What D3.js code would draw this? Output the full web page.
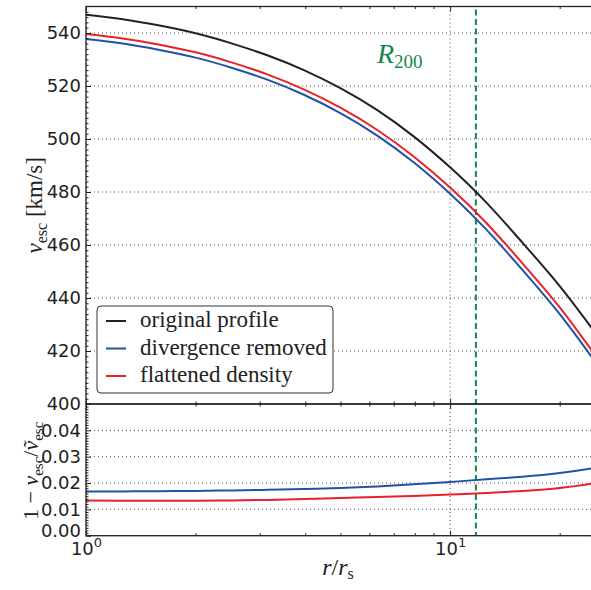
<!DOCTYPE html>
<html>
<head>
<meta charset="utf-8">
<script src="https://cdn.jsdelivr.net/npm/d3@7"></script>
<style>
  body { margin: 0; background: #fff; }
  svg { display: block; }
  .tick text { font-family: "DejaVu Sans", sans-serif; font-size: 18px; fill: #222; }
  .serif { font-family: "Liberation Serif", "DejaVu Serif", "Times New Roman", serif; }
</style>
</head>
<body>
<svg id="chart" width="591" height="590"></svg>
<script>
// ---- data ----
const r = [1, 1.26, 1.58, 2, 2.51, 3.16, 3.98, 5.01, 6.31, 7.94, 10, 12.6, 15.8, 20, 25.1];
const vOriginal   = [546.9, 545.2, 542.9, 539.9, 536.1, 531.5, 525.9, 519.1, 510.9, 501.0, 489.3, 475.9, 460.9, 444.5, 426.7];
const vDivergence = [537.7, 536.0, 533.7, 530.7, 526.9, 522.3, 516.6, 509.7, 501.3, 491.2, 479.3, 465.7, 450.6, 433.9, 415.7];
const vFlattened  = [539.6, 537.9, 535.7, 532.7, 528.9, 524.3, 518.6, 511.7, 503.4, 493.4, 481.7, 468.2, 453.1, 436.5, 418.2];
const ratioDivergence = [0.0168, 0.0168, 0.0169, 0.0170, 0.0172, 0.0174, 0.0177, 0.0181, 0.0187, 0.0195, 0.0204, 0.0214, 0.0224, 0.0238, 0.0258];
const ratioFlattened  = [0.0134, 0.0133, 0.0133, 0.0133, 0.0134, 0.0136, 0.0139, 0.0143, 0.0147, 0.0151, 0.0156, 0.0162, 0.0170, 0.0181, 0.0200];
const r200 = 11.77;
const seriesNames = ["original profile", "divergence removed", "flattened density"];
const seriesColors = ["#222222", "#2152a6", "#e8212b"];
const yTicksTop = [400, 420, 440, 460, 480, 500, 520, 540];
const yTicksBottom = [0.00, 0.01, 0.02, 0.03, 0.04];
const xTicksMajor = [1, 10];
const xTickExponents = ["0", "1"];
const xTicksMinor = [2, 3, 4, 5, 6, 7, 8, 9, 20];

// ---- layout ----
const left = 86, right = 595, topY = 6.5, mid = 404, bottom = 535.7;
const svg = d3.select("#chart");

const x = d3.scaleLog().domain([1, 25]).range([left, right]);
const yTop = d3.scaleLinear().domain([400, 550]).range([mid, topY]);
const yBot = d3.scaleLinear().domain([0, 0.05]).range([bottom, mid]);

const defs = svg.append("defs");
defs.append("clipPath").attr("id", "clipTop").append("rect")
  .attr("x", left).attr("y", topY).attr("width", right - left).attr("height", mid - topY);
defs.append("clipPath").attr("id", "clipBot").append("rect")
  .attr("x", left).attr("y", mid).attr("width", right - left).attr("height", bottom - mid);

const gridStyle = g => g.attr("stroke", "#444").attr("stroke-width", 0.9).attr("stroke-dasharray", "1,3");

function grid(yScale, ticks, y0, y1) {
  const g = svg.append("g").call(gridStyle);
  g.selectAll("line.h").data(ticks).join("line").attr("class", "h")
    .attr("x1", left).attr("x2", right)
    .attr("y1", d => yScale(d)).attr("y2", d => yScale(d));
  g.selectAll("line.v").data(xTicksMajor).join("line").attr("class", "v")
    .attr("x1", d => x(d)).attr("x2", d => x(d))
    .attr("y1", y0).attr("y2", y1);
}
grid(yTop, yTicksTop, topY, mid);
grid(yBot, yTicksBottom, mid, bottom);

// R200 line
svg.append("line")
  .attr("x1", x(r200)).attr("x2", x(r200))
  .attr("y1", topY).attr("y2", bottom)
  .attr("stroke", "#11884a").attr("stroke-width", 2)
  .attr("stroke-dasharray", "6,3.5")
  .attr("stroke-dashoffset", -3);

// curves
const lineTop = vals => d3.line().x((d, i) => x(r[i])).y(d => yTop(d)).curve(d3.curveNatural)(vals);
const lineBot = vals => d3.line().x((d, i) => x(r[i])).y(d => yBot(d)).curve(d3.curveNatural)(vals);

const topSeries = [vOriginal, vDivergence, vFlattened];
svg.append("g").attr("clip-path", "url(#clipTop)")
  .selectAll("path").data(topSeries).join("path")
  .attr("d", d => lineTop(d))
  .attr("fill", "none")
  .attr("stroke", (d, i) => seriesColors[i])
  .attr("stroke-width", 2);

const botSeries = [ratioDivergence, ratioFlattened];
svg.append("g").attr("clip-path", "url(#clipBot)")
  .selectAll("path").data(botSeries).join("path")
  .attr("d", d => lineBot(d))
  .attr("fill", "none")
  .attr("stroke", (d, i) => seriesColors[i + 1])
  .attr("stroke-width", 2);

function cleanAxis(g) { g.select(".domain").remove(); g.selectAll(".tick line").attr("stroke", "#222").attr("stroke-width", 1); }

svg.append("g").attr("transform", `translate(${left},0)`)
  .call(d3.axisLeft(yTop).tickValues(yTicksTop).tickSize(-5).tickPadding(5).tickFormat(d3.format("d")))
  .call(cleanAxis);
svg.append("g").attr("transform", `translate(${left},0)`)
  .call(d3.axisLeft(yTop).tickValues(d3.range(402, 550, 2).filter(v => v % 20 !== 0)).tickSize(-2.5).tickFormat(""))
  .call(cleanAxis);
svg.append("g").attr("transform", `translate(${left},0)`)
  .call(d3.axisLeft(yBot).tickValues(yTicksBottom).tickSize(-5).tickPadding(5).tickFormat(d3.format(".2f")))
  .call(cleanAxis)
  .call(g => g.selectAll(".tick").filter(d => d === 0).select("text").attr("y", -4.5));
svg.append("g").attr("transform", `translate(${left},0)`)
  .call(d3.axisLeft(yBot).tickValues(d3.range(1, 50).filter(v => v % 10 !== 0).map(v => v / 1000)).tickSize(-2.5).tickFormat(""))
  .call(cleanAxis);

[[topY, "top"], [mid, "bottom"], [mid, "top"], [bottom, "bottom"]].forEach(([yy, side]) => {
  const ax = side === "top" ? d3.axisTop : d3.axisBottom;
  svg.append("g").attr("transform", `translate(0,${yy})`)
    .call(ax(x).tickValues(xTicksMajor).tickSize(-5).tickFormat(""))
    .call(cleanAxis);
  svg.append("g").attr("transform", `translate(0,${yy})`)
    .call(ax(x).tickValues(xTicksMinor).tickSize(-2.5).tickFormat(""))
    .call(cleanAxis);
});

const xl = svg.append("g").attr("transform", `translate(0,${bottom})`)
  .call(d3.axisBottom(x).tickValues(xTicksMajor).tickSize(0).tickPadding(0).tickFormat(""));
xl.select(".domain").remove();
xl.selectAll(".tick text").each(function(d, i) {
  const t = d3.select(this).attr("y", 19).attr("dy", null).attr("text-anchor", "middle");
  t.append("tspan").text("10");
  t.append("tspan").attr("font-size", "13px").attr("dy", -8).text(xTickExponents[i]);
});

const sp = svg.append("g").attr("fill", "none").attr("stroke", "#222").attr("stroke-width", 1.3);
sp.append("rect").attr("x", left).attr("y", topY).attr("width", right - left).attr("height", mid - topY);
sp.append("rect").attr("x", left).attr("y", mid).attr("width", right - left).attr("height", bottom - mid);

// legend
const lg = svg.append("g");
lg.append("rect").attr("x", 97).attr("y", 306).attr("width", 236).attr("height", 87).attr("rx", 4)
  .attr("fill", "#fff").attr("stroke", "#333").attr("stroke-width", 1);
const rowY = [321, 348.5, 376];
seriesNames.forEach((name, i) => {
  lg.append("line").attr("x1", 106).attr("x2", 126).attr("y1", rowY[i]).attr("y2", rowY[i])
    .attr("stroke", seriesColors[i]).attr("stroke-width", 2);
  lg.append("text").attr("class", "serif").attr("x", 140).attr("y", rowY[i] + 6)
    .style("font-size", "23px").attr("fill", "#222")
    .text(name);
});

// R200 label
const rl = svg.append("text").attr("class", "serif").attr("x", 377).attr("y", 63).attr("fill", "#11884a");
rl.append("tspan").style("font-style", "italic").style("font-size", "28px").text("R");
rl.append("tspan").style("font-size", "19px").attr("dy", 5).text("200");

// axis labels
const yl1 = svg.append("text").attr("class", "serif").attr("transform", `translate(42,${(topY + mid) / 2}) rotate(-90)`)
  .attr("text-anchor", "middle").style("font-size", "23px").attr("fill", "#222");
yl1.append("tspan").style("font-style", "italic").text("v");
yl1.append("tspan").style("font-size", "16px").attr("dy", 5).text("esc");
yl1.append("tspan").attr("dy", -5).text(" [km/s]");

const yl2 = svg.append("text").attr("class", "serif").attr("transform", `translate(38,${(mid + bottom) / 2 + 1}) rotate(-90)`)
  .attr("text-anchor", "middle").style("font-size", "22px").attr("fill", "#222");
yl2.append("tspan").text("1 \u2212 ");
yl2.append("tspan").style("font-style", "italic").text("v");
yl2.append("tspan").style("font-size", "15px").attr("dy", 5).text("esc");
yl2.append("tspan").attr("dy", -5).text("/");
yl2.append("tspan").style("font-style", "italic").text("\u1E7D");
yl2.append("tspan").style("font-size", "15px").attr("dy", 5).text("esc");

const xlab = svg.append("text").attr("class", "serif").attr("x", 338).attr("y", 575)
  .attr("text-anchor", "middle").style("font-size", "24px").attr("fill", "#222");
xlab.append("tspan").style("font-style", "italic").text("r");
xlab.append("tspan").text("/");
xlab.append("tspan").style("font-style", "italic").text("r");
xlab.append("tspan").style("font-size", "16px").attr("dy", 4).text("s");
</script>
</body>
</html>
